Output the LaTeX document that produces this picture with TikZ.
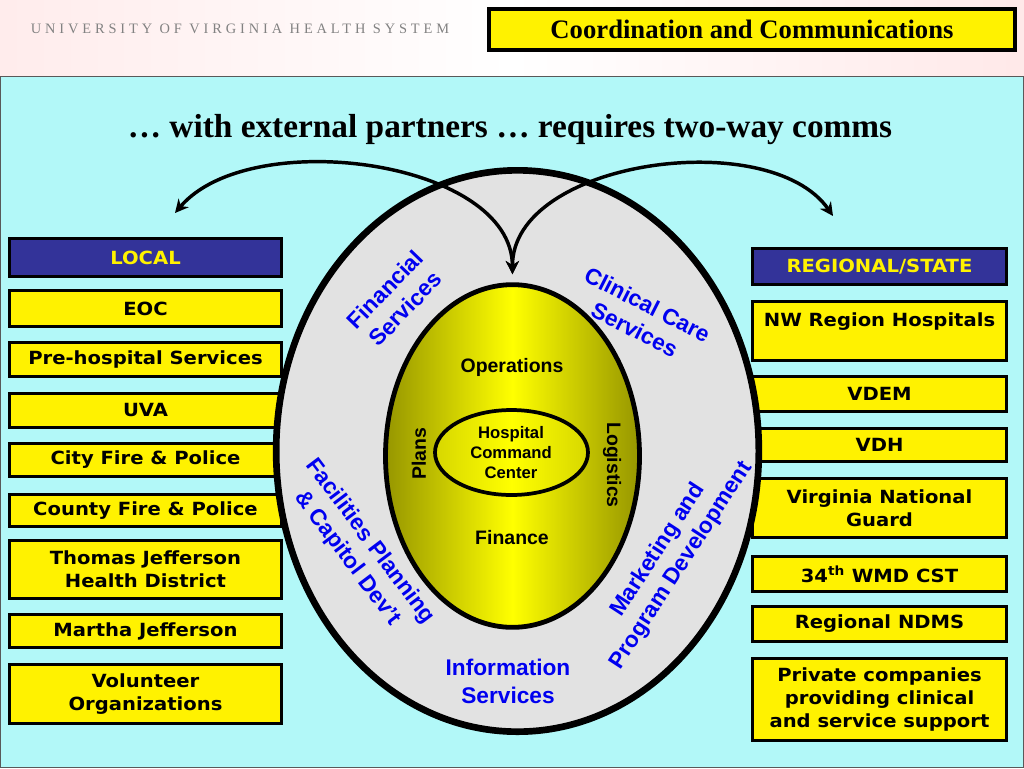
\documentclass[tikz,border=0pt]{standalone}
\usepackage{fontspec}
\setmainfont{Liberation Serif}
\newfontfamily\arialf{Liberation Sans}
\newfontfamily\verdf[FakeStretch=1.08]{DejaVu Sans}
\newfontfamily\uvaf[LetterSpace=27]{Liberation Serif}
\usetikzlibrary{shapes.geometric,arrows.meta}
\definecolor{panelcyan}{RGB}{178,248,248}
\definecolor{hdrblue}{RGB}{51,51,153}
\definecolor{ringgray}{RGB}{226,226,226}
\definecolor{olivey}{RGB}{150,150,0}
\definecolor{olivel}{RGB}{215,215,0}
\definecolor{uvagray}{RGB}{130,130,130}
\definecolor{txtblue}{RGB}{0,0,240}
\begin{document}
\begin{tikzpicture}[x=0.75pt,y=-0.75pt,
 box/.style={draw=black,line width=2.25pt,fill=yellow,inner sep=0pt,align=center,
   font=\verdf\bfseries\fontsize{13.6}{17.25}\selectfont},
 lbox/.style={box,minimum width=204pt},
 rbox/.style={box,minimum width=190.5pt},
 hbox/.style={fill=hdrblue,text=yellow},
 inlab/.style={font=\arialf\bfseries\fontsize{14.6}{17}\selectfont,align=center},
 bluelab/.style={font=\arialf\bfseries\fontsize{17}{21}\selectfont,text=txtblue,align=center},
 arr/.style={line width=2.6pt,{Stealth[length=10pt,width=10pt]}-{Stealth[length=10pt,width=10pt]}}
]
\useasboundingbox (0,0) rectangle (1024,768);
% background
\shade[left color=pink!30, right color=pink!35, middle color=white] (0,0) rectangle (1024,76);
\fill[panelcyan] (0,76) rectangle (1024,768);
\draw[black!65, line width=0.9pt] (0.5,76.5) rectangle (1023.5,767.5);
% header
\node[font=\uvaf\fontsize{10.8}{12}\selectfont, text=uvagray] (uva) at (240,29) {UNIVERSITY OF VIRGINIA HEALTH SYSTEM};
\node[draw=black, line width=3pt, fill=yellow, minimum width=395pt, minimum height=31pt, inner sep=0pt,
  font=\bfseries\fontsize{20}{24}\selectfont] (hdr) at (752,29.5) {Coordination and Communications};
\node[font=\bfseries\fontsize{25}{30}\selectfont] (title) at (510,130) {… with external partners … requires two-way comms};
% left boxes
\node[lbox,hbox,minimum height=28.5pt] (local) at (145.5,257.5) {LOCAL};
\node[lbox,minimum height=27pt] (eoc) at (145.5,308.5) {EOC};
\node[lbox,minimum height=25.5pt] (pre) at (145.5,359.5) {Pre-hospital Services};
\node[lbox,minimum height=25.5pt] (uvab) at (145.5,410.5) {UVA};
\node[lbox,minimum height=24.75pt] (city) at (145.5,460) {City Fire \& Police};
\node[lbox,minimum height=24pt] (county) at (145.5,510.5) {County Fire \& Police};
\node[lbox,minimum height=43.5pt] (tj) at (145.5,569.5) {Thomas Jefferson\\Health District};
\node[lbox,minimum height=24.75pt] (mj) at (145.5,631) {Martha Jefferson};
\node[lbox,minimum height=44.25pt] (vol) at (145.5,694) {Volunteer\\Organizations};
% right boxes
\node[rbox,hbox,minimum height=27pt] (reg) at (879.5,266.5) {REGIONAL/STATE};
\node[rbox,minimum height=44.25pt] (nw) at (879.5,331) {NW Region Hospitals\\~};
\node[rbox,minimum height=26.25pt] (vdem) at (879.5,394) {VDEM};
\node[rbox,minimum height=24.75pt] (vdh) at (879.5,445) {VDH};
\node[rbox,minimum height=44.25pt] (vng) at (879.5,508) {Virginia National\\Guard};
\node[rbox,minimum height=26.25pt] (wmd) at (879.5,574) {34\textsuperscript{th} WMD CST};
\node[rbox,minimum height=26.25pt] (ndms) at (879.5,624) {Regional NDMS};
\node[rbox,minimum height=61.5pt] (priv) at (879.5,699.5) {Private companies\\providing clinical\\and service support};
% ellipses
\node[ellipse, draw=black, line width=5pt, fill=ringgray, minimum width=362pt, minimum height=421pt, inner sep=0pt] (ring) at (517.5,451) {};
\node[ellipse, draw=black, line width=3.6pt, left color=olivey, right color=olivey, middle color=yellow,
  minimum width=190.5pt, minimum height=257pt, inner sep=0pt] (inner) at (512.5,456) {};
\node[ellipse, draw=black, line width=2.8pt, left color=olivel, right color=olivel, middle color=yellow,
  minimum width=114.75pt, minimum height=63.75pt, inner sep=0pt] (hub) at (511.5,452.5) {};
% inner labels
\node[inlab] (ops) at (512,367) {Operations};
\node[inlab, font=\arialf\bfseries\fontsize{12.5}{15}\selectfont] (hcc) at (511,453) {Hospital\\Command\\Center};
\node[inlab, rotate=90] (plans) at (419,454) {Plans};
\node[inlab, rotate=-90] (logi) at (612,465) {Logistics};
\node[inlab] (fin) at (512,538) {Finance};
% ring labels
\node[bluelab, rotate=46] (finsvc) at (395,299) {Financial\\Services};
\node[bluelab, rotate=-27] (clin) at (641,317) {Clinical Care\\Services};
\node[bluelab, rotate=-53] (facil) at (358.5,550) {Facilities Planning\\\& Capitol Dev’t};
\node[bluelab, rotate=57] (mkt) at (670,558) {Marketing and\\Program Development};
\node[bluelab] (info) at (508,681) {Information\\Services};
% arrows
\coordinate (ltip) at (175,213);
\coordinate (rtip) at (833,216);
\draw[arr, shorten >=6pt] (ltip) .. controls (250,125) and (512,160) .. (inner.north);
\draw[arr, shorten >=6pt] (rtip) .. controls (770,125) and (512,160) .. (inner.north);
\end{tikzpicture}
\end{document}
